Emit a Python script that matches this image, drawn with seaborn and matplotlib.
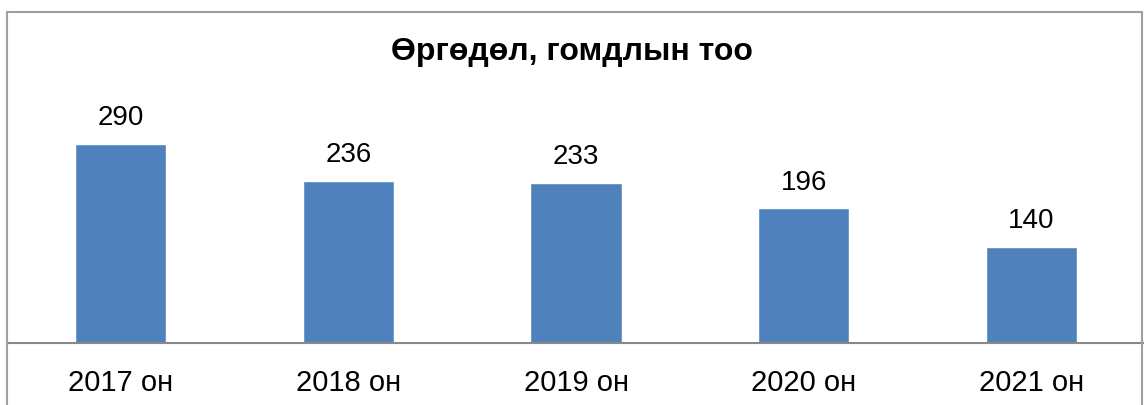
import matplotlib.pyplot as plt
import seaborn as sns
import pandas as pd
from matplotlib.patches import Rectangle

years = ['2017 он', '2018 он', '2019 он', '2020 он', '2021 он']
counts = [290, 236, 233, 196, 140]
title = 'Өргөдөл, гомдлын тоо'

sns.set_style('white')
plt.rcParams['font.family'] = ['Liberation Sans', 'DejaVu Sans']
plt.rcParams['text.color'] = 'black'
plt.rcParams['xtick.color'] = 'black'

df = pd.DataFrame({'year': years, 'count': counts})

fig = plt.figure(figsize=(11.44, 4.05), dpi=100)
ax = fig.add_axes([7 / 1144, 62 / 405, 1138 / 1144, 331 / 405])

sns.barplot(data=df, x='year', y='count', color='#4F81BD', saturation=1,
            width=0.4, ax=ax)

ax.set_ylim(0, 482)
ax.set_xlim(-0.5, 4.5)
ax.set_xlabel('')
ax.set_ylabel('')
ax.set_yticks([])
ax.tick_params(axis='x', length=0, pad=18.5, labelsize=21, labelcolor='black')
for s in ['left', 'top', 'right']:
    ax.spines[s].set_visible(False)
ax.spines['bottom'].set_color('#898989')
ax.spines['bottom'].set_linewidth(1.5)

for i, v in enumerate(counts):
    ax.annotate(str(v), (i, v), xytext=(0, 9), textcoords='offset points',
                ha='center', va='bottom', fontsize=20, color='black')

fig.text(0.5, 1 - 52 / 405, title, ha='center', va='center',
         fontsize=23, fontweight='bold', color='black')

frame = Rectangle((7 / 1144, -0.05), 1135 / 1144, 1 - 12 / 405 + 0.05,
                  transform=fig.transFigure, fill=False,
                  edgecolor='#A0A0A0', linewidth=1.5)
fig.patches.append(frame)

fig.savefig('out.png', dpi=100)
